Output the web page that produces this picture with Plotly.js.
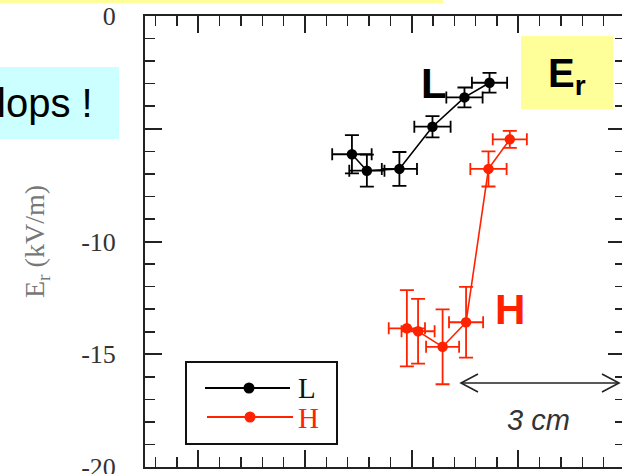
<!DOCTYPE html>
<html>
<head>
<meta charset="utf-8">
<script src="https://cdn.plot.ly/plotly-3.0.1.min.js"></script>
<style>
html,body{margin:0;padding:0;overflow:hidden;background:#fff;}
#chart{width:640px;height:474px;}
</style>
</head>
<body>
<div id="chart"></div>
<script>
// ---- data (x in cm, Er in kV/m) ----
const seriesNames = ["L", "H"];
const xL  = [-5.12, -4.84, -4.23, -3.61, -3.01, -2.54];
const yL  = [-6.13, -6.86, -6.78, -4.91, -3.61, -2.96];
const exL = [0.37, 0.33, 0.33, 0.34, 0.34, 0.33];
const eyL = [0.85, 0.71, 0.75, 0.47, 0.44, 0.44];

const xH  = [-4.09, -3.88, -3.42, -2.98, -2.56, -2.16];
const yH  = [-13.85, -13.98, -14.67, -13.58, -6.78, -5.47];
const exH = [0.34, 0.31, 0.31, 0.32, 0.34, 0.32];
const eyH = [1.69, 1.44, 1.66, 1.57, 0.78, 0.38];

const yTickVals = [0, -5, -10, -15, -20];
const yTickText = ["0", "-5", "-10", "-15", "-20"];

// ---- layout helpers (pixel -> paper) ----
const L0 = 145, T0 = 16, PW = 480, PH = 451;
const px = x => (x - L0) / PW;
const py = y => (T0 + PH - y) / PH;

const BLACK = "#000000";
const RED = "#ff2200";

function trace(name, x, y, ex, ey, color) {
  return {
    type: "scatter", mode: "lines+markers", name: name,
    x: x, y: y,
    line: {color: color, width: 1.6},
    marker: {color: color, size: 10.5},
    error_x: {type: "data", array: ex, visible: true, color: color, thickness: 1.8, width: 6},
    error_y: {type: "data", array: ey, visible: true, color: color, thickness: 1.8, width: 7},
    showlegend: false
  };
}

const data = [
  trace(seriesNames[0], xL, yL, exL, eyL, BLACK),
  trace(seriesNames[1], xH, yH, exH, eyH, RED)
];

function rect(x0, y0, x1, y1, fill, line) {
  return {type: "rect", xref: "paper", yref: "paper", layer: "above",
    x0: px(x0), x1: px(x1), y0: py(y0), y1: py(y1),
    fillcolor: fill, line: line || {width: 0}};
}
function seg(x0, y0, x1, y1, color, w) {
  return {type: "line", xref: "paper", yref: "paper", layer: "above",
    x0: px(x0), x1: px(x1), y0: py(y0), y1: py(y1), line: {color: color, width: w}};
}
function dot(cx, cy, r, color) {
  return {type: "circle", xref: "paper", yref: "paper", layer: "above",
    x0: px(cx - r), x1: px(cx + r), y0: py(cy + r), y1: py(cy - r),
    fillcolor: color, line: {width: 0}};
}
function poly(pts, color, w) {
  const d = pts.map((p, i) => (i ? "L" : "M") + px(p[0]) + "," + py(p[1])).join(" ");
  return {type: "path", xref: "paper", yref: "paper", layer: "above", path: d,
    line: {color: color, width: w}};
}

const shapes = [
  rect(-10, -6, 443, 3, "#ffff99"),
  rect(-10, 67, 119, 139, "#ccffff"),
  rect(521, 36, 613, 109, "#ffff99"),
  rect(186, 362, 337, 444, "rgba(0,0,0,0)", {color: "#111", width: 2}),
  seg(205, 388, 290, 388, BLACK, 2),
  dot(249, 388, 5.5, BLACK),
  seg(207, 417, 293, 417, RED, 2),
  dot(250, 417, 5.5, RED),
  seg(461, 383, 619, 383, "#222", 1.6),
  poly([[478, 374], [461, 383], [478, 392]], "#222", 1.6),
  poly([[602, 374], [619, 383], [602, 392]], "#222", 1.6)
];

function txt(text, x, y, size, color, family, xanchor) {
  return {text: text, xref: "paper", yref: "paper", x: px(x), y: py(y),
    xanchor: xanchor || "center", yanchor: "middle", showarrow: false,
    font: {family: family, size: size, color: color}};
}
const SANS = "Liberation Sans, Arial, sans-serif";
const SERIF = "Liberation Serif, Times New Roman, serif";

const annotations = [
  txt("lops !", 95, 103, 40, "#000", SANS, "right"),
  txt("<b>L</b>", 434, 84, 42, "#000", SANS),
  txt("<b>H</b>", 510, 309, 42, RED, SANS),
  txt("<b>E<sub>r</sub></b>", 567, 76, 40, "#000", SANS),
  txt(seriesNames[0], 296, 388, 29, "#111", SERIF, "left"),
  txt(seriesNames[1], 296, 418, 29, RED, SERIF, "left"),
  txt("<i>3 cm</i>", 538, 420, 29, "#333", SANS)
];

const axisCommon = {
  showline: true, linewidth: 2, linecolor: "#222", mirror: "allticks",
  ticks: "inside", ticklen: 17, tickwidth: 2, tickcolor: "#222",
  showgrid: false, zeroline: false
};

const layout = {
  width: 640, height: 474,
  margin: {l: L0, r: 640 - L0 - PW, t: T0, b: 474 - T0 - PH, pad: 0},
  paper_bgcolor: "#fff", plot_bgcolor: "#fff",
  showlegend: false,
  xaxis: Object.assign({}, axisCommon, {
    range: [-9, 0], tickmode: "linear", tick0: 0, dtick: 2,
    showticklabels: false,
    minor: {tick0: 0, dtick: 0.4, ticks: "inside", ticklen: 10, tickwidth: 1.6, tickcolor: "#222", showgrid: false}
  }),
  yaxis: Object.assign({}, axisCommon, {
    range: [-20, 0], tickmode: "array", tickvals: yTickVals, ticktext: yTickText,
    tickfont: {family: SERIF, size: 26, color: "#333"},
    ticklabelstandoff: 22,
    ticklabeloverflow: "allow",
    minor: {tick0: 0, dtick: 1, ticks: "inside", ticklen: 10, tickwidth: 1.6, tickcolor: "#222", showgrid: false},
    title: {text: "E<sub>r</sub> (kV/m)", font: {family: SERIF, size: 28, color: "#777"}, standoff: 28}
  }),
  shapes: shapes,
  annotations: annotations
};

Plotly.newPlot("chart", data, layout, {staticPlot: true, displayModeBar: false});
</script>
</body>
</html>
